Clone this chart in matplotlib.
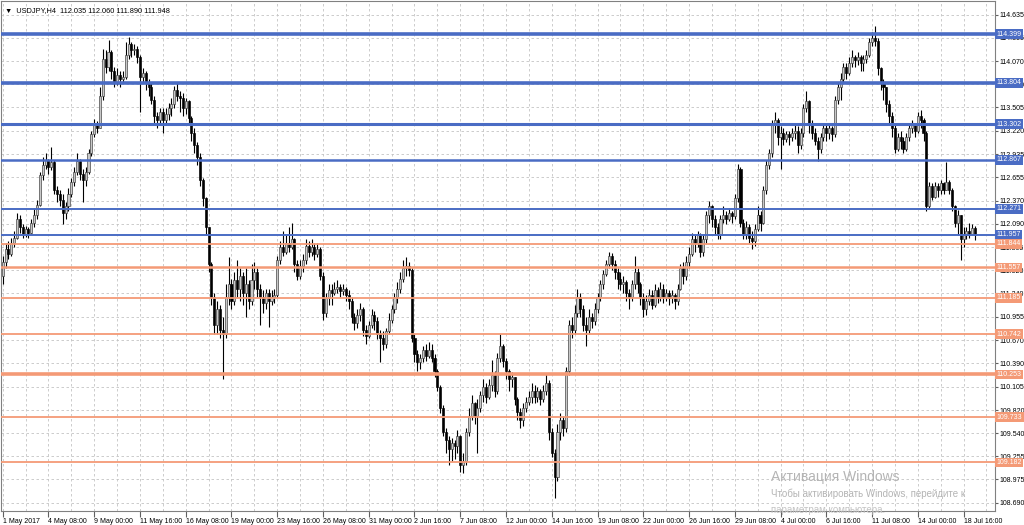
import matplotlib
matplotlib.use("Agg")
import matplotlib.pyplot as plt
import matplotlib.transforms as mtransforms

plt.rcParams['font.family'] = ['Liberation Sans', 'DejaVu Sans']

# USDJPY H4 bars (open of each bar = previous close)
first_open = 111.45
closes = [
    111.62, 111.78, 111.72, 111.86, 111.92, 112.15, 112.05, 111.97, 112.02, 111.98,
    112.10, 112.20, 112.32, 112.68, 112.80, 112.86, 112.78, 112.84, 112.50, 112.45,
    112.38, 112.22, 112.30, 112.45, 112.60, 112.72, 112.85, 112.70, 112.62, 112.72,
    112.95, 113.18, 113.30, 113.26, 113.65, 114.10, 114.00, 114.18, 113.95, 113.82,
    113.90, 113.85, 113.88, 114.15, 114.28, 114.20, 114.22, 114.12, 113.88, 113.92,
    113.80, 113.75, 113.60, 113.40, 113.35, 113.45, 113.35, 113.42, 113.50, 113.55,
    113.72, 113.65, 113.62, 113.50, 113.58, 113.38, 113.20, 113.05, 112.90, 112.62,
    112.40, 112.05, 111.60, 111.20, 110.85, 111.05, 110.80, 110.75, 111.20, 111.35,
    111.15, 111.40, 111.30, 111.45, 111.25, 111.35, 111.15, 111.40, 111.50, 111.30,
    111.20, 111.12, 111.25, 111.15, 111.20, 111.22, 111.65, 111.80, 111.75, 111.85,
    111.80, 111.90, 111.60, 111.45, 111.58, 111.65, 111.82, 111.75, 111.80, 111.72,
    111.78, 111.45, 111.00, 111.18, 111.28, 111.25, 111.30, 111.32, 111.27, 111.30,
    111.22, 111.15, 110.95, 110.88, 110.98, 111.05, 110.80, 110.72, 110.85, 110.98,
    110.90, 110.75, 110.70, 110.62, 110.78, 110.92, 111.05, 111.20, 111.30, 111.42,
    111.55, 111.58, 111.52, 110.70, 110.50, 110.40, 110.45, 110.55, 110.48, 110.55,
    110.45, 110.30, 110.10, 109.85, 109.55, 109.45, 109.35, 109.42, 109.38, 109.50,
    109.15, 109.20, 109.55, 109.75, 109.90, 109.75, 109.85, 110.00, 110.10, 109.98,
    110.12, 110.25, 110.05, 110.45, 110.60, 110.42, 110.30, 110.20, 110.22, 109.95,
    109.80, 109.70, 109.85, 109.92, 109.98, 110.05, 109.98, 110.05, 109.95, 110.05,
    110.15, 109.55, 109.30, 109.00, 109.55, 109.70, 109.60, 110.30, 110.85, 110.80,
    111.00, 111.20, 111.05, 110.85, 110.80, 110.95, 110.90, 111.05, 111.20, 111.35,
    111.48, 111.60, 111.70, 111.60, 111.50, 111.42, 111.35, 111.38, 111.25, 111.20,
    111.35, 111.50, 111.35, 111.20, 111.05, 111.15, 111.22, 111.10, 111.28, 111.20,
    111.30, 111.20, 111.25, 111.18, 111.22, 111.15, 111.30, 111.55, 111.45, 111.62,
    111.72, 111.90, 111.85, 111.95, 111.75, 111.90, 112.20, 112.30, 112.15, 112.05,
    111.95, 112.15, 112.20, 112.15, 112.22, 112.18, 112.40, 112.75, 112.10, 111.95,
    112.05, 111.92, 111.88, 112.02, 112.20, 112.10, 112.50, 112.80, 112.95, 113.30,
    113.35, 113.15, 113.20, 113.12, 113.18, 113.15, 113.20, 113.22, 113.05, 113.20,
    113.50, 113.58, 113.30, 113.20, 113.10, 113.00, 113.15, 113.25, 113.20, 113.25,
    113.18, 113.60, 113.75, 113.85, 114.00, 113.92, 114.05, 114.12, 114.08, 114.12,
    114.05, 114.10, 114.15, 114.30, 114.35, 114.32, 113.98, 113.80, 113.75, 113.55,
    113.40, 113.25, 113.00, 113.15, 113.10, 113.00, 113.15, 113.25, 113.30, 113.22,
    113.40, 113.35, 113.20, 112.30, 112.55, 112.42, 112.55, 112.50, 112.58, 112.50,
    112.60, 112.50, 112.30, 112.10, 112.20, 111.90, 111.95, 112.00, 111.95, 112.035,
    111.948,
]
highs = [
    111.70, 111.85, 111.88, 111.92, 112.00, 112.22, 112.20, 112.08, 112.06, 112.05,
    112.15, 112.28, 112.38, 112.72, 112.90, 112.95, 112.88, 113.02, 112.86, 112.55,
    112.50, 112.45, 112.35, 112.52, 112.65, 112.78, 112.95, 112.88, 112.75, 112.78,
    113.00, 113.22, 113.36, 113.34, 113.75, 114.22, 114.20, 114.33, 114.20, 114.00,
    113.98, 113.95, 113.95, 114.30, 114.36, 114.30, 114.28, 114.25, 114.15, 113.98,
    113.95, 113.85, 113.80, 113.65, 113.45, 113.50, 113.50, 113.50, 113.56, 113.62,
    113.77, 113.80, 113.70, 113.68, 113.62, 113.60, 113.40, 113.25, 113.08, 112.95,
    112.65, 112.42, 112.05, 111.62, 111.25, 111.15, 111.10, 110.95, 111.35, 111.68,
    111.42, 111.50, 111.65, 111.55, 111.50, 111.55, 111.40, 111.60, 111.62, 111.55,
    111.35, 111.28, 111.30, 111.30, 111.28, 111.30, 111.70, 111.88, 112.00, 111.95,
    112.05, 112.10, 111.92, 111.65, 111.65, 111.72, 111.90, 111.88, 111.90, 111.85,
    111.85, 111.80, 111.50, 111.25, 111.35, 111.35, 111.38, 111.40, 111.35, 111.35,
    111.32, 111.28, 111.20, 111.00, 111.05, 111.12, 111.08, 110.85, 110.90, 111.05,
    111.02, 110.95, 110.80, 110.78, 110.82, 111.00, 111.10, 111.25, 111.38, 111.50,
    111.65, 111.68, 111.62, 111.55, 110.75, 110.55, 110.50, 110.60, 110.62, 110.65,
    110.62, 110.50, 110.32, 110.12, 109.88, 109.60, 109.50, 109.48, 109.45, 109.58,
    109.52, 109.30, 109.60, 109.85, 110.00, 109.92, 109.95, 110.05, 110.20, 110.15,
    110.20, 110.43, 110.30, 110.52, 110.75, 110.62, 110.45, 110.32, 110.28, 110.22,
    109.98, 109.85, 109.90, 109.98, 110.05, 110.15, 110.12, 110.10, 110.08, 110.12,
    110.27, 110.18, 109.60, 109.35, 109.65, 109.78, 109.75, 110.35, 110.92, 110.95,
    111.10, 111.30, 111.25, 111.10, 110.95, 111.05, 111.00, 111.12, 111.25, 111.40,
    111.52, 111.65, 111.75, 111.73, 111.65, 111.55, 111.50, 111.45, 111.40, 111.30,
    111.40, 111.70, 111.55, 111.38, 111.25, 111.22, 111.30, 111.28, 111.35, 111.32,
    111.38, 111.35, 111.30, 111.28, 111.28, 111.25, 111.35, 111.60, 111.62, 111.70,
    111.80, 111.98, 111.95, 112.00, 111.98, 111.95, 112.25, 112.36, 112.32, 112.20,
    112.10, 112.20, 112.30, 112.25, 112.28, 112.25, 112.45, 112.82, 112.78, 112.15,
    112.12, 112.08, 112.00, 112.08, 112.30, 112.25, 112.55, 112.86, 113.00, 113.35,
    113.45, 113.38, 113.28, 113.25, 113.22, 113.22, 113.25, 113.30, 113.28, 113.25,
    113.55, 113.70, 113.60, 113.35, 113.25, 113.15, 113.20, 113.30, 113.32, 113.30,
    113.28, 113.65, 113.82, 113.92, 114.05, 114.05, 114.12, 114.20, 114.15, 114.18,
    114.15, 114.15, 114.20, 114.35, 114.42, 114.50, 114.35, 114.00, 113.85, 113.75,
    113.60, 113.45, 113.30, 113.20, 113.22, 113.15, 113.20, 113.30, 113.35, 113.32,
    113.45, 113.47, 113.38, 113.22, 112.60, 112.58, 112.60, 112.58, 112.62, 112.60,
    112.84, 112.62, 112.52, 112.32, 112.26, 112.20, 112.05, 112.05, 112.10, 112.08,
    112.06,
]
lows = [
    111.35, 111.55, 111.66, 111.70, 111.80, 111.90, 111.98, 111.92, 111.93, 111.92,
    111.96, 112.05, 112.15, 112.30, 112.62, 112.75, 112.70, 112.74, 112.45, 112.35,
    112.30, 112.08, 112.15, 112.25, 112.42, 112.55, 112.68, 112.62, 112.35, 112.55,
    112.70, 112.92, 113.15, 113.20, 113.25, 113.60, 113.92, 113.95, 113.85, 113.75,
    113.78, 113.75, 113.80, 113.85, 114.10, 114.12, 114.15, 114.05, 113.45, 113.82,
    113.72, 113.65, 113.55, 113.30, 113.25, 113.30, 113.20, 113.30, 113.35, 113.40,
    113.50, 113.58, 113.45, 113.40, 113.42, 113.30, 113.10, 112.95, 112.80, 112.55,
    112.30, 111.95, 111.50, 111.10, 110.75, 110.75, 110.70, 110.20, 110.70, 111.10,
    111.05, 111.10, 111.20, 111.15, 111.10, 110.95, 111.05, 111.10, 111.30, 111.20,
    110.85, 111.00, 111.05, 110.83, 111.10, 111.12, 111.20, 111.60, 111.70, 111.72,
    111.75, 111.78, 111.50, 111.40, 111.42, 111.50, 111.60, 111.68, 111.70, 111.65,
    111.68, 111.40, 110.92, 110.95, 111.10, 111.10, 111.22, 111.25, 111.20, 111.22,
    111.15, 111.05, 110.88, 110.80, 110.82, 110.90, 110.72, 110.62, 110.70, 110.82,
    110.80, 110.68, 110.40, 110.55, 110.58, 110.75, 110.88, 111.00, 111.12, 111.25,
    111.38, 111.45, 111.45, 110.65, 110.40, 110.30, 110.32, 110.40, 110.42, 110.45,
    110.40, 110.22, 110.05, 109.78, 109.50, 109.30, 109.15, 109.20, 109.22, 109.30,
    109.07, 109.05, 109.15, 109.50, 109.70, 109.65, 109.30, 109.80, 109.92, 109.90,
    109.95, 110.05, 109.98, 110.02, 110.40, 110.35, 110.20, 110.05, 110.10, 109.88,
    109.70, 109.60, 109.62, 109.80, 109.88, 109.90, 109.90, 109.92, 109.88, 109.92,
    110.00, 109.45, 109.25, 108.75, 108.95, 109.45, 109.50, 109.55, 110.25, 110.70,
    110.75, 110.95, 110.95, 110.78, 110.60, 110.75, 110.82, 110.85, 111.00, 111.15,
    111.30, 111.45, 111.55, 111.52, 111.42, 111.30, 111.28, 111.25, 111.15, 111.05,
    111.15, 111.30, 111.25, 111.10, 110.95, 110.98, 111.10, 111.05, 111.08, 111.12,
    111.15, 111.12, 111.15, 111.10, 111.12, 111.05, 111.10, 111.28, 111.35, 111.40,
    111.55, 111.70, 111.75, 111.80, 111.68, 111.70, 111.85, 112.10, 112.05, 111.95,
    111.90, 111.90, 112.10, 112.08, 112.12, 112.10, 112.15, 112.35, 112.05, 111.90,
    111.90, 111.85, 111.78, 111.82, 112.00, 112.00, 112.08, 112.45, 112.75, 112.90,
    113.20, 113.05, 112.75, 113.05, 113.08, 113.05, 113.10, 113.12, 112.95, 113.00,
    113.15, 113.45, 113.20, 113.12, 113.05, 112.85, 112.95, 113.10, 113.10, 113.12,
    113.10, 113.15, 113.55, 113.60, 113.80, 113.85, 113.90, 114.00, 114.00, 114.02,
    113.95, 113.95, 114.05, 114.12, 114.25, 114.25, 113.90, 113.72, 113.60, 113.45,
    113.30, 113.15, 112.95, 112.98, 113.00, 112.95, 112.98, 113.10, 113.20, 113.15,
    113.20, 113.25, 113.10, 112.25, 112.28, 112.38, 112.40, 112.42, 112.45, 112.45,
    112.50, 112.45, 112.25, 112.05, 111.95, 111.65, 111.80, 111.90, 111.92, 111.95,
    111.89,
]

# horizontal levels
blue_levels = [114.399, 113.804, 113.302, 112.867, 112.271, 111.957]
blue_widths = [2.6, 2.6, 2.2, 1.8, 1.4, 1.4]
orange_levels = [111.844, 111.557, 111.185, 110.742, 110.253, 109.733, 109.182]
orange_widths = [1.3, 1.8, 1.3, 1.3, 2.6, 1.3, 1.3]

price_ticks = [114.635, 114.355, 114.070, 113.790, 113.505, 113.220, 112.935,
               112.655, 112.370, 112.090, 111.805, 111.520, 111.240, 110.955,
               110.670, 110.390, 110.105, 109.820, 109.540, 109.255, 108.975,
               108.690]
time_labels = ['1 May 2017', '4 May 08:00', '9 May 00:00', '11 May 16:00',
               '16 May 08:00', '19 May 00:00', '23 May 16:00', '26 May 08:00',
               '31 May 00:00', '2 Jun 16:00', '7 Jun 08:00', '12 Jun 00:00',
               '14 Jun 16:00', '19 Jun 08:00', '22 Jun 00:00', '26 Jun 16:00',
               '29 Jun 08:00', '4 Jul 00:00', '6 Jul 16:00', '11 Jul 08:00',
               '14 Jul 00:00', '18 Jul 16:00']

BLUE = '#4a6cc4'
ORANGE = '#f49a76'
FS = 5.0

opens = [first_open] + closes[:-1]
n = len(closes)
xs = list(range(n))

fig = plt.figure(figsize=(10.24, 5.25), dpi=100)
ax = fig.add_axes([1 / 1024, 14 / 525, 994 / 1024, 510 / 525])
ax.set_facecolor('white')

# grid
ax.set_xticks([i * 16 for i in range(len(time_labels))])
ax.set_xticks([i * 16 + 8 for i in range(len(time_labels))], minor=True)
ax.set_xticklabels(time_labels)
ax.set_yticks(price_ticks)
ax.set_yticklabels(['%.3f' % t for t in price_ticks])
ax.grid(True, which='both', axis='x', color='#c4c4c4', linestyle=(0, (3, 3)), linewidth=0.6)
ax.grid(True, which='major', axis='y', color='#c4c4c4', linestyle=(0, (3, 3)), linewidth=0.6)
ax.set_axisbelow(True)

# candles
for i in xs:
    o, c = opens[i], closes[i]
    h = max(highs[i], o, c)
    l = min(lows[i], o, c)
    bull = c >= o
    ax.vlines(i, l, h, color='black', linewidth=0.8, zorder=2)
    body = max(abs(c - o), 0.012)
    ax.bar(i, body, bottom=min(o, c), width=0.72,
           color='#c8c8c8' if bull else 'black',
           edgecolor='#3a3a3a' if bull else 'black', linewidth=0.45, zorder=3)

# levels
trans = mtransforms.blended_transform_factory(ax.transAxes, ax.transData)
for lv, lw in zip(blue_levels, blue_widths):
    ax.axhline(lv, color=BLUE, linewidth=lw, zorder=4)
for lv, lw in zip(orange_levels, orange_widths):
    ax.axhline(lv, color=ORANGE, linewidth=lw, zorder=4)
for lv in blue_levels:
    ax.text(1.0015, lv, '%.3f' % lv, transform=trans, color='white', fontsize=FS,
            va='center', ha='left', clip_on=False, zorder=10,
            bbox=dict(boxstyle='square,pad=0.2', fc=BLUE, ec='none'))
for lv in orange_levels:
    ax.text(1.0015, lv, '%.3f' % lv, transform=trans, color='white', fontsize=FS,
            va='center', ha='left', clip_on=False, zorder=10,
            bbox=dict(boxstyle='square,pad=0.2', fc=ORANGE, ec='none'))

ax.set_xlim(-0.6, 347)
ax.set_ylim(108.590, 114.802)

ax.yaxis.tick_right()
ax.tick_params(axis='y', labelsize=FS, length=2, pad=1.2, color='#606060')
ax.tick_params(axis='x', which='major', labelsize=5.0, length=4, pad=1, color='#606060')
ax.tick_params(axis='x', which='minor', length=0)
for lab in ax.get_xticklabels():
    lab.set_ha('left')
for sp in ax.spines.values():
    sp.set_color('#808080')
    sp.set_linewidth(0.8)

# chart header
ax.text(0.004, 0.988, '\u25bc  USDJPY,H4  112.035 112.060 111.890 111.948',
        transform=ax.transAxes, fontsize=5.3, va='top', ha='left', zorder=11)

# Windows activation watermark
ax.text(0.775, 0.067, 'Активация Windows', transform=ax.transAxes,
        fontsize=10, color='#b4b4b4', va='center', ha='left', zorder=11)
ax.text(0.775, 0.033, 'Чтобы активировать Windows, перейдите к', transform=ax.transAxes,
        fontsize=7, color='#b4b4b4', va='center', ha='left', zorder=11)
ax.text(0.775, 0.002, 'параметрам компьютера.', transform=ax.transAxes,
        fontsize=7, color='#c4c4c4', va='center', ha='left', zorder=11)

fig.savefig('out.png', dpi=100)
